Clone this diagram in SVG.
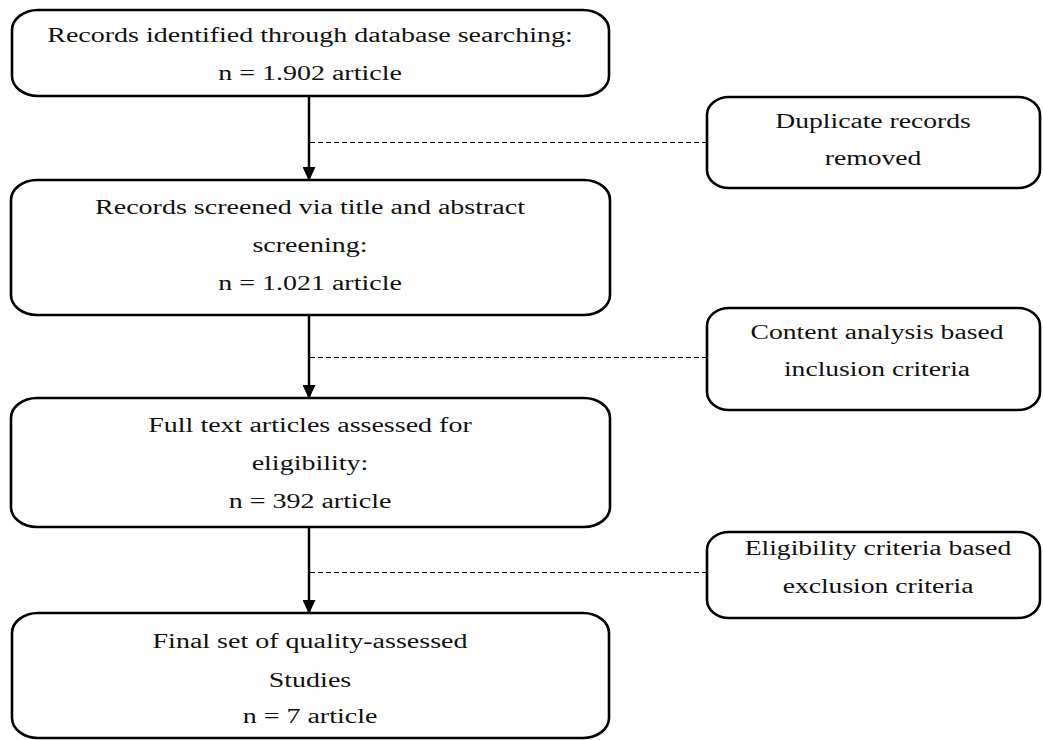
<svg xmlns="http://www.w3.org/2000/svg" width="1043" height="740" viewBox="0 0 1043 740">
<style>
.box{fill:#fff;stroke:#000;stroke-width:2.6}
.t{font-family:"Liberation Serif","Times New Roman",serif;font-size:20px;fill:#111;text-anchor:middle}
.arrow{stroke:#000;stroke-width:2.5;fill:none}
.dash{stroke:#000;stroke-width:1;stroke-dasharray:5 3;fill:none}
</style>
<defs>
<marker id="a2" markerWidth="14" markerHeight="13" refX="13" refY="6.5" orient="auto" markerUnits="userSpaceOnUse" viewBox="0 0 14 13">
<path d="M0,0 L14,6.5 L0,13 Z" fill="#000"/>
</marker>
</defs>
<rect width="1043" height="740" fill="#fff"/>
<g id="connectors">
<line class="arrow" x1="309" y1="96" x2="309" y2="180" marker-end="url(#a2)"/>
<line class="arrow" x1="309" y1="315" x2="309" y2="398" marker-end="url(#a2)"/>
<line class="arrow" x1="309" y1="527" x2="309" y2="613" marker-end="url(#a2)"/>
<line class="dash" x1="310" y1="142.5" x2="707" y2="142.5"/>
<line class="dash" x1="310" y1="357.5" x2="707" y2="357.5"/>
<line class="dash" x1="310" y1="572.5" x2="707" y2="572.5"/>
</g>
<g id="n1">
<rect class="box" x="12" y="10" width="597" height="86" rx="26" ry="20"/>
<text class="t" transform="translate(310,42) scale(1.4,1)">Records identified through database searching:</text>
<text class="t" transform="translate(310,80) scale(1.4,1)">n = 1.902 article</text>
</g>
<g id="n2">
<rect class="box" x="11" y="180" width="599" height="135" rx="26" ry="20"/>
<text class="t" transform="translate(310,214) scale(1.4,1)">Records screened via title and abstract</text>
<text class="t" transform="translate(310,252) scale(1.4,1)">screening:</text>
<text class="t" transform="translate(310,290) scale(1.4,1)">n = 1.021 article</text>
</g>
<g id="n3">
<rect class="box" x="11" y="398" width="599" height="129" rx="26" ry="20"/>
<text class="t" transform="translate(310,432) scale(1.4,1)">Full text articles assessed for</text>
<text class="t" transform="translate(310,470) scale(1.4,1)">eligibility:</text>
<text class="t" transform="translate(310,508) scale(1.4,1)">n = 392 article</text>
</g>
<g id="n4">
<rect class="box" x="12" y="613" width="597" height="125" rx="26" ry="20"/>
<text class="t" transform="translate(310,648) scale(1.4,1)">Final set of quality-assessed</text>
<text class="t" transform="translate(310,687) scale(1.4,1)">Studies</text>
<text class="t" transform="translate(310,723) scale(1.4,1)">n = 7 article</text>
</g>
<g id="r1">
<rect class="box" x="707" y="97" width="333" height="91" rx="22" ry="18"/>
<text class="t" transform="translate(873,128) scale(1.38,1)">Duplicate records</text>
<text class="t" transform="translate(873,165) scale(1.38,1)">removed</text>
</g>
<g id="r2">
<rect class="box" x="707" y="308" width="333" height="102" rx="22" ry="18"/>
<text class="t" transform="translate(877,339) scale(1.38,1)">Content analysis based</text>
<text class="t" transform="translate(877,376) scale(1.38,1)">inclusion criteria</text>
</g>
<g id="r3">
<rect class="box" x="707" y="532" width="333" height="86" rx="22" ry="18"/>
<text class="t" transform="translate(878,555) scale(1.38,1)">Eligibility criteria based</text>
<text class="t" transform="translate(878,593) scale(1.38,1)">exclusion criteria</text>
</g>
</svg>
